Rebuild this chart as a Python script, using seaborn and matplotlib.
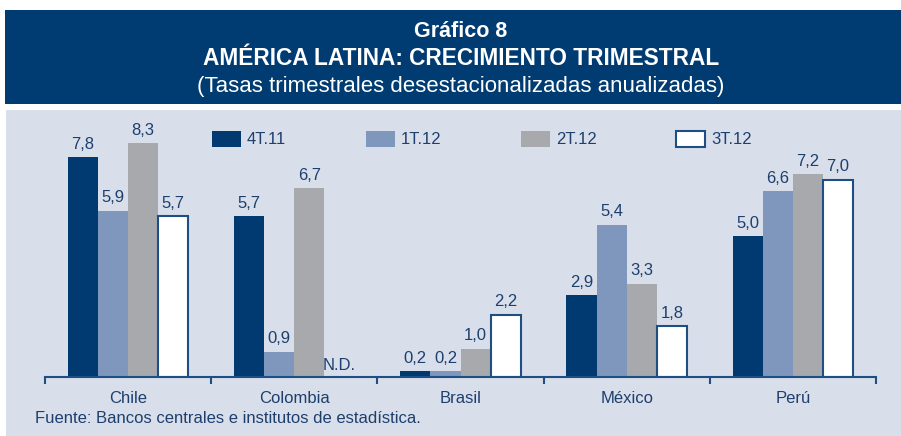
import numpy as np
import pandas as pd
import matplotlib
matplotlib.use("Agg")
import matplotlib.pyplot as plt
import seaborn as sns
from matplotlib.patches import Rectangle

# ---- data ----
countries = ["Chile", "Colombia", "Brasil", "México", "Perú"]
quarters = ["4T.11", "1T.12", "2T.12", "3T.12"]
q4_11 = [7.8, 5.7, 0.2, 2.9, 5.0]
q1_12 = [5.9, 0.9, 0.2, 5.4, 6.6]
q2_12 = [8.3, 6.7, 1.0, 3.3, 7.2]
q3_12 = [5.7, np.nan, 2.2, 1.8, 7.0]
series = [q4_11, q1_12, q2_12, q3_12]

title1 = "Gráfico 8"
title2 = "AMÉRICA LATINA: CRECIMIENTO TRIMESTRAL"
subtitle = "(Tasas trimestrales desestacionalizadas anualizadas)"
source = "Fuente: Bancos centrales e institutos de estadística."
nd_label = "N.D."

rows = []
for q, vals in zip(quarters, series):
    for c, v in zip(countries, vals):
        rows.append({"country": c, "quarter": q, "value": v})
df = pd.DataFrame(rows)

TXT = "#1d3f6e"
EDGE = "#1f4e85"
colors = ["#003a70", "#7f97bc", "#a7a9ad", "#ffffff"]
PANEL = "#d9dfea"

sns.set_theme(style="white")
plt.rcParams["font.family"] = ["Liberation Sans", "DejaVu Sans"]

W, H = 901, 436
fig = plt.figure(figsize=(W / 100, H / 100), dpi=100)
fig.patch.set_facecolor("white")

# banner and panel
fig.patches.append(Rectangle((5 / W, 1 - 104 / H), 896 / W, 94 / H,
                             transform=fig.transFigure, facecolor="#003b71",
                             edgecolor="none", zorder=-5))
fig.patches.append(Rectangle((6 / W, 0), 895 / W, 1 - 110 / H,
                             transform=fig.transFigure, facecolor=PANEL,
                             edgecolor="none", zorder=-5))

fig.text(461 / W, 1 - 37 / H, title1, color="white", fontsize=15.5,
         fontweight="bold", ha="center", va="baseline")
fig.text(461 / W, 1 - 65 / H, title2, color="white", fontsize=16.3,
         fontweight="bold", ha="center", va="baseline")
fig.text(461 / W, 1 - 92 / H, subtitle, color="white", fontsize=16,
         ha="center", va="baseline")

ax = fig.add_axes([45 / W, (H - 377) / H, 831 / W, 262 / H])
ax.set_facecolor("none")
ax.set_zorder(2)

sns.barplot(data=df, x="country", y="value", hue="quarter",
            order=countries, hue_order=quarters, palette=colors,
            width=0.725, gap=0, ax=ax, errorbar=None, saturation=1,
            edgecolor="none", linewidth=0)

for i, cont in enumerate(ax.containers):
    for p in cont:
        if i == 3:
            p.set_edgecolor(EDGE)
            p.set_linewidth(1.5)
        else:
            p.set_edgecolor("none")
    labels = [("%.1f" % v).replace(".", ",") if not np.isnan(v) else ""
              for v in cont.datavalues]
    ax.bar_label(cont, labels=labels, padding=4, fontsize=12, color=TXT)

# N.D. label for missing value
bw = 0.725 / len(quarters)
for ci, c in enumerate(countries):
    for qi, vals in enumerate(series):
        if np.isnan(vals[ci]):
            xpos = ci - 0.725 / 2 + bw * (qi + 0.5)
            ax.text(xpos, 0.15, nd_label, ha="center", va="bottom",
                    fontsize=12, color=TXT)

ax.set_xlim(-0.5, len(countries) - 0.5)
ax.set_ylim(0, 9.3)
ax.set_xlabel("")
ax.set_ylabel("")
ax.set_yticks([])
for s in ["top", "left", "right"]:
    ax.spines[s].set_visible(False)
ax.spines["bottom"].set_color(EDGE)
ax.spines["bottom"].set_linewidth(1.5)
ax.set_xticks(range(len(countries)))
ax.set_xticklabels(countries, fontsize=12, color=TXT)
ax.tick_params(axis="x", which="major", length=0, pad=10)
ax.set_xticks(np.arange(-0.5, len(countries), 1.0), minor=True)
ax.tick_params(axis="x", which="minor", bottom=True, length=5, width=1.5,
               color=EDGE, direction="out")

handles, labs = ax.get_legend_handles_labels()
if ax.get_legend() is not None:
    ax.get_legend().remove()
for h, c in zip(handles, colors):
    h.set_facecolor(c)
    if c == "#ffffff":
        h.set_edgecolor(EDGE)
        h.set_linewidth(1.5)
    else:
        h.set_edgecolor("none")
leg = fig.legend(handles, labs, ncol=4, frameon=False, fontsize=12,
                 loc="center left", bbox_to_anchor=(212 / W, 1 - 139 / H),
                 handlelength=1.74, handleheight=1.15, handletextpad=0.35,
                 columnspacing=4.78, borderaxespad=0, borderpad=0)
leg.set_zorder(3)
for t in leg.get_texts():
    t.set_color(TXT)

fig.text(35 / W, 1 - 418 / H, source, fontsize=12, color=TXT,
         ha="left", va="center")

fig.savefig("out.png", dpi=100, facecolor=fig.get_facecolor())
